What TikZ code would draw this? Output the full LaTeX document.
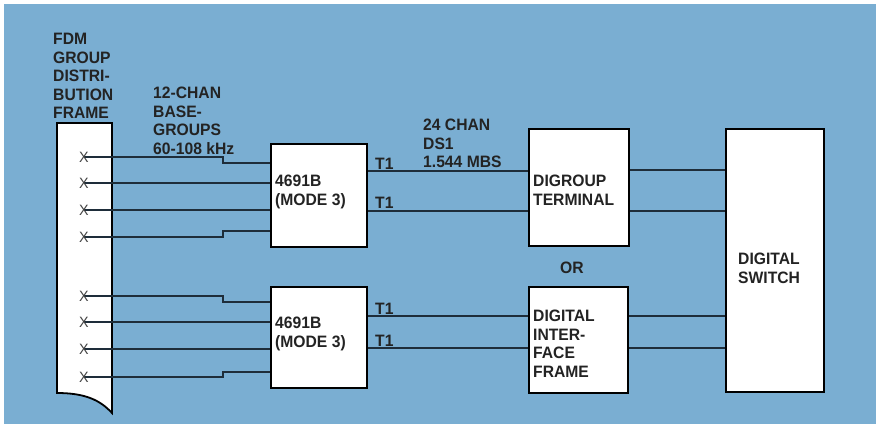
\documentclass[tikz,border=0pt]{standalone}
\usepackage{fontspec}
\setmainfont{Liberation Sans}[FakeStretch=0.95]
\usetikzlibrary{calc}

\definecolor{bgblue}{RGB}{122,174,210}
\definecolor{ink}{RGB}{35,35,35}
\definecolor{wirec}{RGB}{30,45,58}

\begin{document}
\begin{tikzpicture}[
    x=1pt, y=-1pt,
    box/.style={
        draw=black,
        fill=white,
        line width=1.8pt,
        inner sep=0pt,
        anchor=north west
    },
    txt/.style={
        font=\fontsize{16.5}{18.5}\selectfont\bfseries,
        text=ink,
        align=left,
        inner sep=0pt,
        anchor=north west
    },
    xmark/.style={
        font=\fontsize{15}{15}\selectfont,
        text=ink!85,
        inner sep=0pt
    },
    wire/.style={
        draw=wirec,
        line width=1.5pt
    }
]
\useasboundingbox (0,0) rectangle (880,428);
\fill[bgblue] (4,4) rectangle (876,424);

% Distribution frame
\draw[fill=white, line width=1.8pt] (57,123) -- (112,123) -- (112,413)
    .. controls (100,400) and (85,393) .. (57,393) -- cycle;
\node (fdmt) [txt] at (53,33) {FDM\\GROUP\\DISTRI-\\BUTION\\FRAME};
\node (bgt) [txt] at (153,87) {12-CHAN\\BASE-\\GROUPS\\60-108 kHz};
\foreach \y [count=\i] in {157,183,210,237}
    \coordinate (xa\i) at (84,\y);
\foreach \y [count=\i] in {296,322,349,377}
    \coordinate (xb\i) at (84,\y);

% Boxes
\node (mxa) [box, minimum width=96, minimum height=103] at (270,143) {};
\node (mxb) [box, minimum width=96, minimum height=101] at (270,286) {};
\node (dgt) [box, minimum width=100, minimum height=117] at (528,128) {};
\node (dif) [box, minimum width=99, minimum height=106] at (528,286) {};
\node (dsw) [box, minimum width=98, minimum height=263] at (725,128) {};

\node (mxat) [txt] at ($(mxa.north west)+(5,32)$) {4691B\\(MODE 3)};
\node (mxbt) [txt] at ($(mxb.north west)+(5,31)$) {4691B\\(MODE 3)};
\node (dgtt) [txt] at ($(dgt.north west)+(5,47)$) {DIGROUP\\TERMINAL};
\node (dift) [txt] at ($(dif.north west)+(5,24)$) {DIGITAL\\INTER-\\FACE\\FRAME};
\node (dswt) [txt] at ($(dsw.north west)+(13,125)$) {DIGITAL\\SWITCH};

\node (dst) [txt] at (423,119) {24 CHAN\\DS1\\1.544 MBS};
\node (ort) [txt] at (560,262) {OR};
\node (ta1) [txt] at (375,158) {T1};
\node (ta2) [txt] at (375,197) {T1};
\node (tb1) [txt] at (375,303) {T1};
\node (tb2) [txt] at (375,335) {T1};

% Base groups in
\draw[wire] (xa1) -| (223,163) -- (mxa.west |- 0,163);
\draw[wire] (xa2) -- (mxa.west |- xa2);
\draw[wire] (xa3) -- (mxa.west |- xa3);
\draw[wire] (xa4) -| (223,231) -- (mxa.west |- 0,231);
\draw[wire] (xb1) -| (223,302) -- (mxb.west |- 0,302);
\draw[wire] (xb2) -- (mxb.west |- xb2);
\draw[wire] (xb3) -- (mxb.west |- xb3);
\draw[wire] (xb4) -| (223,372) -- (mxb.west |- 0,372);

% T1 lines
\draw[wire] (mxa.east |- 0,171) -- (dgt.west |- 0,171);
\draw[wire] (mxa.east |- 0,211) -- (dgt.west |- 0,211);
\draw[wire] (mxb.east |- 0,316) -- (dif.west |- 0,316);
\draw[wire] (mxb.east |- 0,348) -- (dif.west |- 0,348);
\draw[wire] (dgt.east |- 0,170) -- (dsw.west |- 0,170);
\draw[wire] (dgt.east |- 0,211) -- (dsw.west |- 0,211);
\draw[wire] (dif.east |- 0,316) -- (dsw.west |- 0,316);
\draw[wire] (dif.east |- 0,348) -- (dsw.west |- 0,348);

% marks on top
\foreach \n in {xa1,xa2,xa3,xa4,xb1,xb2,xb3,xb4}
    \node (m\n) [xmark] at (\n) {X};

\end{tikzpicture}
\end{document}
